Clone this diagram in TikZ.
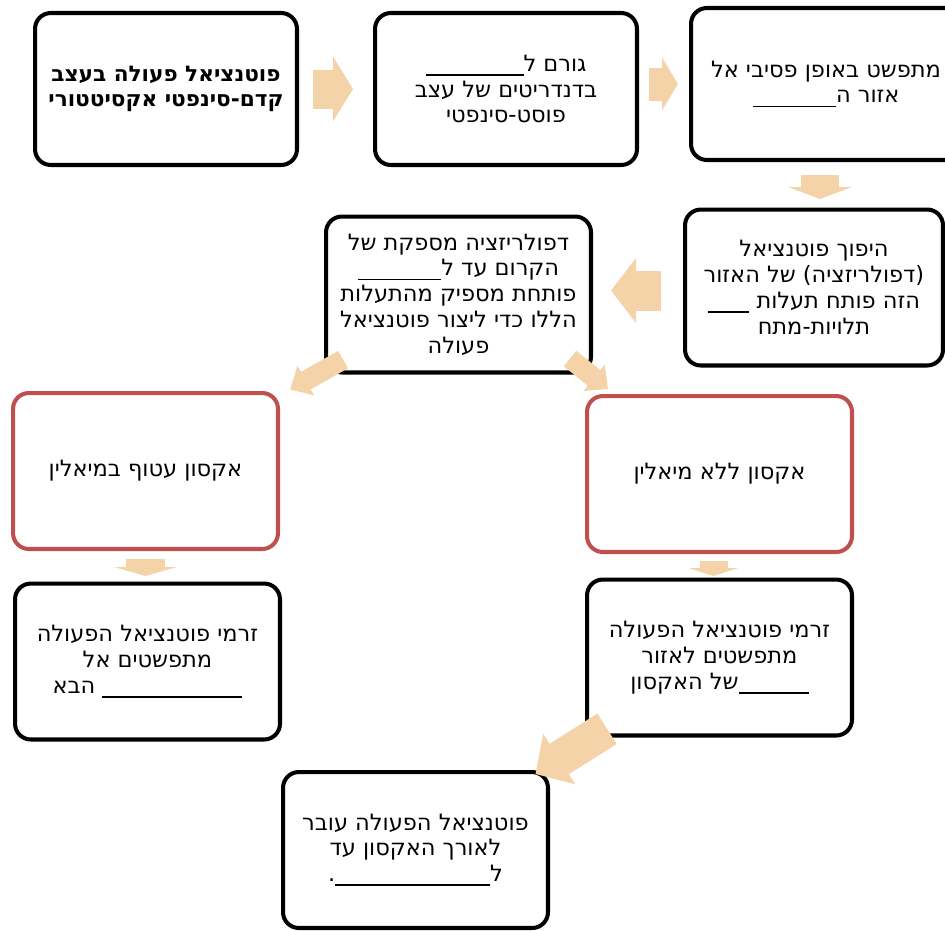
\documentclass[tikz,border=0pt]{standalone}
\usepackage{fontspec}
\usetikzlibrary{arrows.meta,calc}
\newfontfamily\hebfont[Script=Hebrew]{DejaVu Sans}
\TeXXeTstate=1
\newcommand{\rl}[1]{\beginR #1\endR}
\newcommand{\blank}[1]{\rule[-0.2em]{#1}{0.08em}}
\definecolor{peach}{HTML}{F5D3A8}
\definecolor{boxred}{HTML}{C0504D}
\tikzset{
  blockarrow/.style n args={3}{draw=peach, line width=#1,
    -{Triangle[width=#2, length=#3, line width=0pt]}}
}

\begin{document}
\begin{tikzpicture}[x=0.02cm,y=-0.02cm]
      \useasboundingbox (0,0) rectangle (945,930);

      \begin{scope}[every node/.style={draw,rounded corners=9pt,line width=2.3pt,fill=white,align=center,
          minimum width=5.3cm,minimum height=3.12cm,inner sep=2pt,font=\hebfont\fontsize{12.8}{14.7}\selectfont}]
        \node (a) at (166,89) [minimum width=5.24cm,minimum height=3.04cm,font=\hebfont\bfseries\fontsize{12.3}{14.2}\selectfont]
          {\rl{פוטנציאל פעולה בעצב}\\\rl{קדם-סינפטי אקסיטטורי}};
        \node (b) at (506,89) [minimum width=5.24cm,minimum height=3.04cm]
          {\rl{גורם ל\blank{1.96cm}}\\\rl{בדנדריטים של עצב}\\\rl{פוסט-סינפטי}};
        \node (c) at (826,84) [minimum width=5.4cm,minimum height=3.04cm]
          {\rl{מתפשט באופן פסיבי אל}\\\rl{אזור ה\blank{1.67cm}}};
        \node (d) at (814,287.5) [minimum width=5.16cm]
          {\rl{היפוך פוטנציאל}\\\rl{(דפולריזציה) של האזור}\\\rl{הזה פותח תעלות \blank{0.83cm}}\\\rl{תלויות-מתח}};
        \node (e) at (458.5,294.5)
          {\rl{דפולריזציה מספקת של}\\\rl{הקרום עד ל\blank{1.67cm}}\\\rl{פותחת מספיק מהתעלות}\\\rl{הללו כדי ליצור פוטנציאל}\\\rl{פעולה}};
        \node (h) at (147.5,661.5)
          {\rl{זרמי פוטנציאל הפעולה}\\\rl{מתפשטים אל}\\\rl{\blank{2.8cm} הבא}};
        \node (i) at (719.5,657.5)
          {\rl{זרמי פוטנציאל הפעולה}\\\rl{מתפשטים לאזור}\\\rl{\blank{1.4cm}של האקסון}};
        \node (j) at (415.5,850)
          {\rl{פוטנציאל הפעולה עובר}\\\rl{לאורך האקסון עד}\\\rl{ל\blank{3.1cm}.}};
        \begin{scope}[every node/.append style={draw=boxred}]
          \node (f) at (145.5,471) {\rl{אקסון עטוף במיאלין}};
          \node (g) at (719.5,474) {\rl{אקסון ללא מיאלין}};
        \end{scope}
      \end{scope}

      \draw[blockarrow={0.78cm}{1.3cm}{0.4cm}] ($(a)!0.432!(b)$) -- ($(a)!0.55!(b)$);
      \draw[blockarrow={0.66cm}{1.06cm}{0.32cm}] ($(b.east)+(10,-5)$) -- ($(b.east)+(39,-5)$);
      \draw[blockarrow={0.76cm}{1.28cm}{0.24cm}] ($(c.south)+(-6,13)$) -- ($(c.south)+(-6,37)$);
      \draw[blockarrow={0.8cm}{1.3cm}{0.5cm}] ($(d.west)+(-22,3)$) -- ($(d.west)+(-72,3)$);
      \draw[blockarrow={0.4cm}{0.68cm}{0.36cm}] ($(e)!0.369!(f)$) -- ($(e)!0.538!(f)$);
      \draw[blockarrow={0.4cm}{0.68cm}{0.36cm}] ($(e.south east)+(-23,-16)$) -- ($(g.north west)+(23,-5)$);
      \draw[blockarrow={0.78cm}{1.26cm}{0.18cm}] ($(f.south)+(0,8)$) -- ($(f.south)+(0,25)$);
      \draw[blockarrow={0.56cm}{1.0cm}{0.16cm}] ($(g.south)+(-6,7)$) -- ($(g.south)+(-6,22)$);
      \draw[blockarrow={0.72cm}{1.2cm}{0.56cm}] ($(i)!0.37!(j)$) -- ($(i)!0.605!(j)$);

    \end{tikzpicture}
\end{document}
